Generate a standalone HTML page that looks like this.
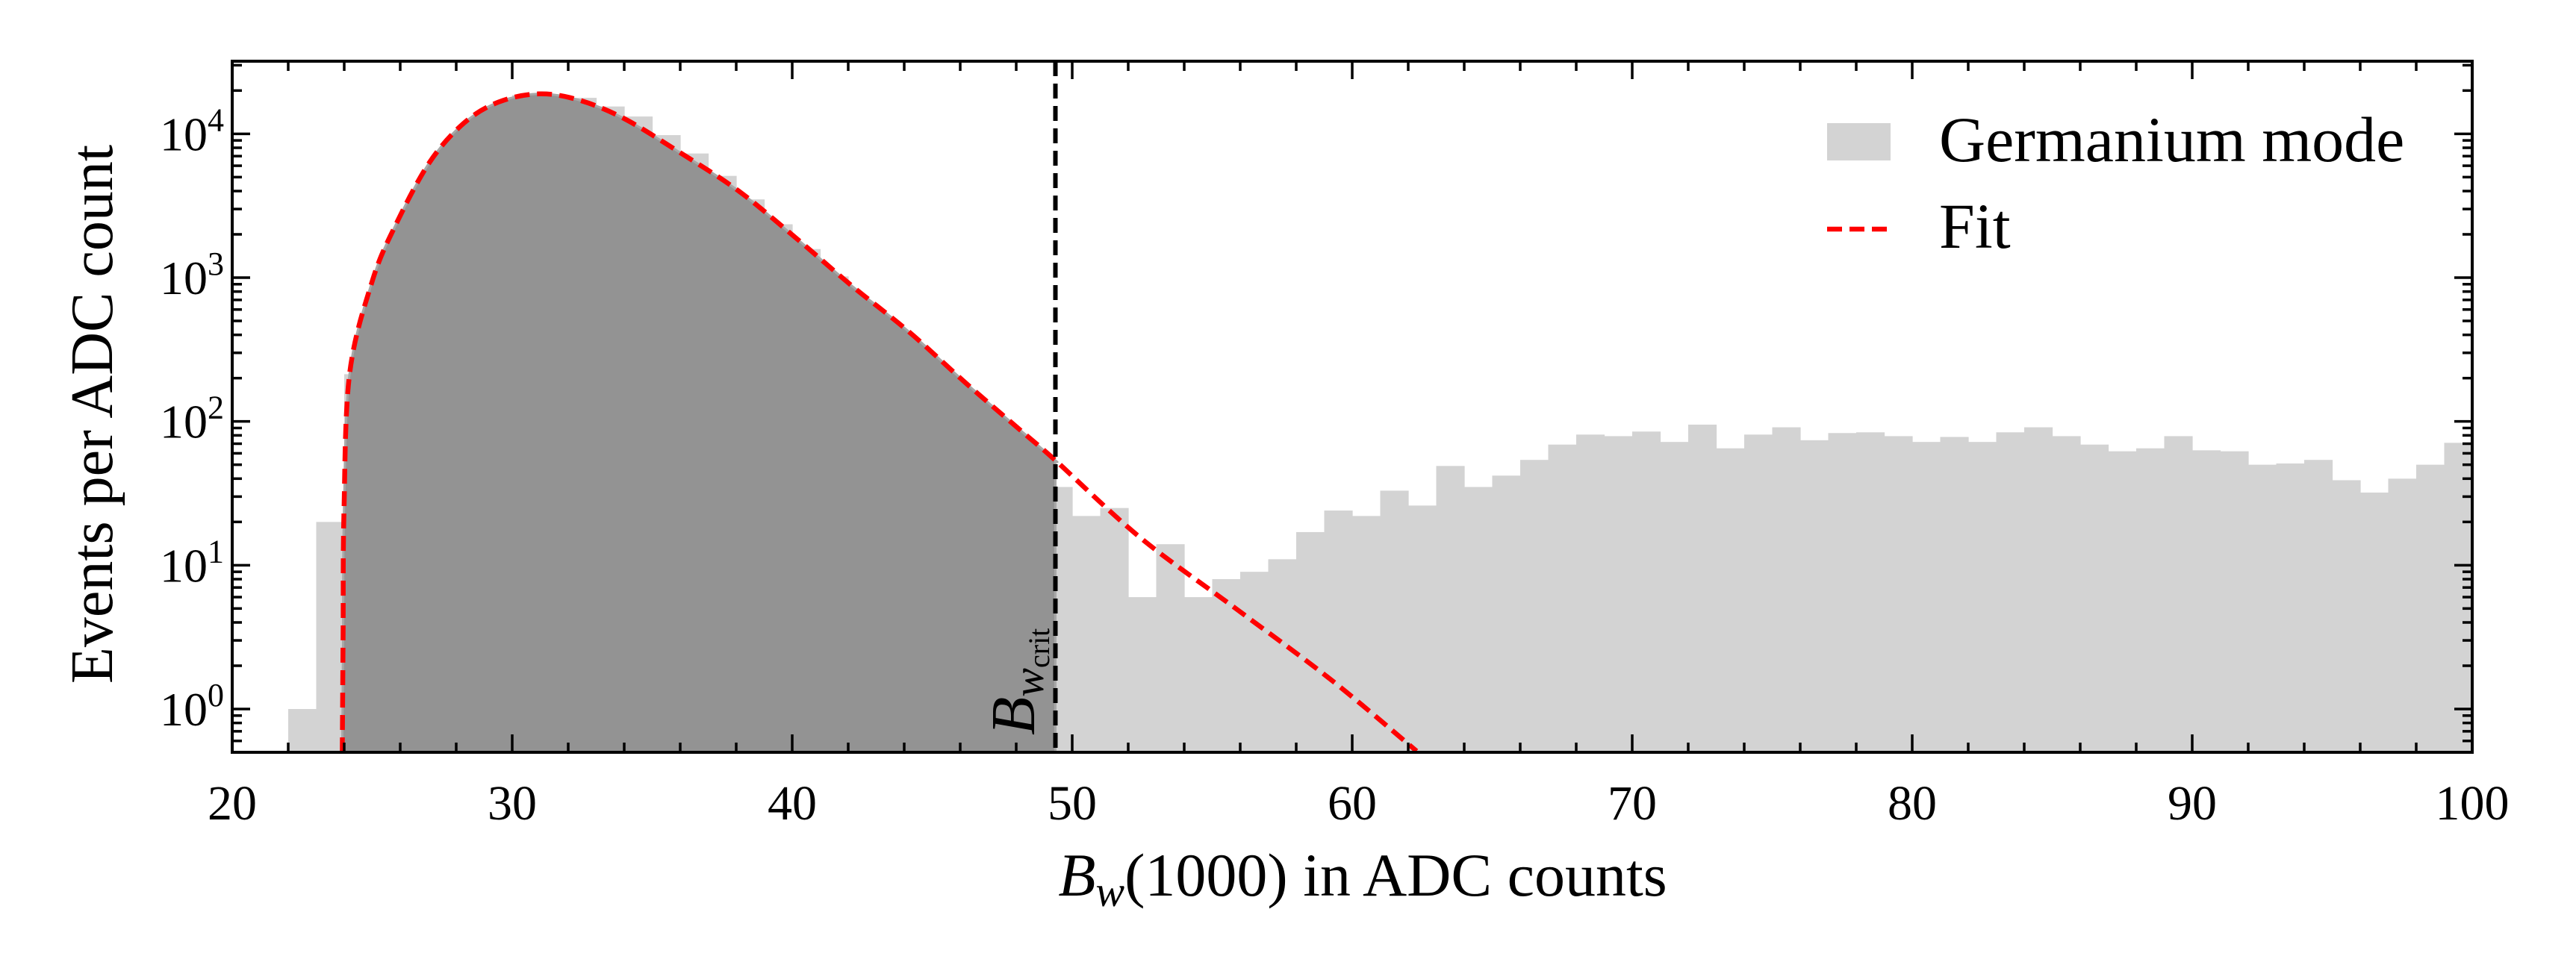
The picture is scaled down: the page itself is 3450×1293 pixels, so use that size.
<!DOCTYPE html>
<html><head><meta charset="utf-8"><style>
html,body{margin:0;padding:0;background:#fff;}
svg{display:block;font-family:"Liberation Serif",serif;}
</style></head><body>
<svg id="chart" width="3450" height="1293" viewBox="0 0 3450 1293" xmlns="http://www.w3.org/2000/svg">
<defs><clipPath id="plotclip"><rect x="311" y="82" width="3000" height="926"/></clipPath></defs>
<g id="bars" clip-path="url(#plotclip)"></g>
<g id="fill" clip-path="url(#plotclip)"></g>
<g id="lines" clip-path="url(#plotclip)"></g>
<g id="axes"></g>
<text x="0" y="0" font-size="80" text-anchor="middle" transform="translate(150,555) rotate(-90)">Events per ADC count</text>
<text x="1825" y="1200" font-size="82" text-anchor="middle"><tspan font-style="italic">B</tspan><tspan font-style="italic" font-size="58" dy="14">w</tspan><tspan dy="-14">(1000) in ADC counts</tspan></text>
<text x="0" y="0" font-size="84" transform="translate(1385,985) rotate(-90)"><tspan font-style="italic">B</tspan><tspan font-style="italic" font-size="58" dy="12">w</tspan><tspan font-size="40" dy="8">crit</tspan></text>
<g>
<rect x="2447" y="165" width="85" height="50" fill="#d3d3d3"/>
<text x="2597" y="216" font-size="86">Germanium mode</text>
<line x1="2447" y1="307" x2="2532" y2="307" stroke="#ff0000" stroke-width="6.5" stroke-dasharray="20,10"/>
<text x="2597" y="332" font-size="86">Fit</text>
</g>
</svg>
<script>
const binStarts=[22,23,24,25,26,27,28,29,30,31,32,33,34,35,36,37,38,39,40,41,42,43,44,45,46,47,48,49,50,51,52,53,54,55,56,57,58,59,60,61,62,63,64,65,66,67,68,69,70,71,72,73,74,75,76,77,78,79,80,81,82,83,84,85,86,87,88,89,90,91,92,93,94,95,96,97,98,99];
const binCounts=[1,20,213,944,2820,6460,10960,14800,18600,18600,17800,15500,13200,9800,7300,5100,3500,2350,1580,1020,660,445,270,170,100,72,40,35,22,25,6,14,6,8,9,11,17,24,22,33,26,49,35,42,54,69,81,79,85,72,95,65,81,91,74,83,84,79,72,78,72,84,91,79,69,62,65,79,63,62,50,51,54,39,32,40,50,71];
const fitX=[23.93,23.96,23.99,24.19,25.0,25.83,27.04,28.27,29.5,30.93,32.35,33.99,36.03,38.07,40.11,42.15,44.19,46.24,48.27,49.38,52.44,55.84,59.24,62.3];
const fitY=[0.5,3.2,22.7,212,944,2307,6310,11860,16600,18970,17260,12790,7330,4030,1905,871,417,182,83,54,15.5,5.0,1.6,0.51];
const bwCrit=49.4;
const xTicks=[20,30,40,50,60,70,80,90,100];
const yTickExps=[0,1,2,3,4];

const NS="http://www.w3.org/2000/svg";
const X0=311,X1=3311,Y0=82,Y1=1008,xmin=20,xmax=100,lmin=Math.log10(0.5),lmax=Math.log10(32000);
const sx=v=>X0+(v-xmin)/(xmax-xmin)*(X1-X0);
const sy=v=>Y1-(Math.log10(Math.max(v,1e-3))-lmin)/(lmax-lmin)*(Y1-Y0);
function mk(tag,attrs,parent){const e=document.createElementNS(NS,tag);for(const k in attrs)e.setAttribute(k,attrs[k]);parent.appendChild(e);return e;}

const bars=document.getElementById('bars');
binStarts.forEach((b,i)=>{
  const x=sx(b),w=sx(b+1)-x,y=sy(binCounts[i]);
  const r=mk('rect',{x:x,y:y,width:w+0.6,height:Y1-y,fill:'#d3d3d3'},bars);
  
  
});

const P=fitX.map((x,i)=>[sx(x),sy(fitY[i])]);
function smooth(pts){
  let d='M'+pts[0][0].toFixed(1)+','+pts[0][1].toFixed(1);
  for(let i=0;i<pts.length-1;i++){
    const p0=pts[Math.max(i-1,0)],p1=pts[i],p2=pts[i+1],p3=pts[Math.min(i+2,pts.length-1)];
    const c1=[p1[0]+(p2[0]-p0[0])/6,p1[1]+(p2[1]-p0[1])/6];
    const c2=[p2[0]-(p3[0]-p1[0])/6,p2[1]-(p3[1]-p1[1])/6];
    d+='C'+c1[0].toFixed(1)+','+c1[1].toFixed(1)+' '+c2[0].toFixed(1)+','+c2[1].toFixed(1)+' '+p2[0].toFixed(1)+','+p2[1].toFixed(1);
  }
  return d;
}
const d=smooth(P);
const FP=[];
for(let i=0;i<fitX.length;i++){
  if(fitX[i]<=bwCrit){FP.push(P[i]);}
  else{const t=(bwCrit-fitX[i-1])/(fitX[i]-fitX[i-1]);
    const ly=Math.log10(fitY[i-1])+t*(Math.log10(fitY[i])-Math.log10(fitY[i-1]));
    FP.push([sx(bwCrit),sy(Math.pow(10,ly))]);break;}
}
const fd=smooth(FP)+'L'+sx(bwCrit)+','+Y1+'L'+sx(fitX[0])+','+Y1+'Z';
const fillG=document.getElementById('fill');
const fp=mk('path',{d:fd,fill:'#939393',stroke:'#a8a8a8','stroke-width':3},fillG);



const lines=document.getElementById('lines');
const fl=mk('path',{d:d,fill:'none',stroke:'#ff0000','stroke-width':6.5,'stroke-dasharray':'20,10'},lines);


const cl=mk('line',{x1:sx(bwCrit),y1:Y0,x2:sx(bwCrit),y2:Y1,stroke:'#000','stroke-width':6,'stroke-dasharray':'20,10'},lines);



const ax=document.getElementById('axes');
const frame=mk('rect',{x:X0,y:Y0,width:X1-X0,height:Y1-Y0,fill:'none',stroke:'#000','stroke-width':4},ax);


for(let v=20;v<=100;v+=2){
  const x=sx(v),major=(v%10===0),L=major?24:13;
  mk('line',{x1:x,y1:Y1,x2:x,y2:Y1-L,stroke:'#000','stroke-width':3.5},ax);
  mk('line',{x1:x,y1:Y0,x2:x,y2:Y0+L,stroke:'#000','stroke-width':3.5},ax);
}
xTicks.forEach(v=>{
  const t=mk('text',{x:sx(v),y:1098,'font-size':66,'text-anchor':'middle'},ax);
  t.textContent=String(v);
  
  
});
for(let e=-1;e<=4;e++){
  for(let m=1;m<=9;m++){
    const v=m*Math.pow(10,e);
    if(v<0.5||v>32000)continue;
    const y=sy(v),L=(m===1)?24:13;
    mk('line',{x1:X0,y1:y,x2:X0+L,y2:y,stroke:'#000','stroke-width':3.5},ax);
    mk('line',{x1:X1,y1:y,x2:X1-L,y2:y,stroke:'#000','stroke-width':3.5},ax);
  }
}
yTickExps.forEach(e=>{
  const y=sy(Math.pow(10,e));
  const t=mk('text',{x:300,y:y+22,'font-size':64,'text-anchor':'end'},ax);
  
  
  const a=document.createElementNS(NS,'tspan');a.textContent='10';t.appendChild(a);
  const b=document.createElementNS(NS,'tspan');b.setAttribute('font-size','44');b.setAttribute('dy','-26');b.textContent=String(e);t.appendChild(b);
});
</script>
</body></html>
